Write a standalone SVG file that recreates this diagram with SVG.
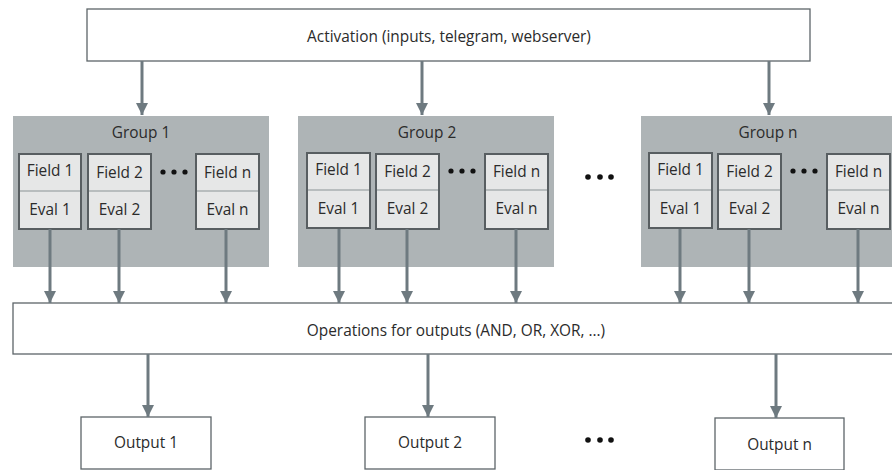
<svg xmlns="http://www.w3.org/2000/svg" width="892" height="470" viewBox="0 0 892 470">
<style>
text{font-family:"Open Sans","Noto Sans","Liberation Sans",sans-serif;font-size:15.4px;fill:#2b2b2b;text-anchor:middle}
.box{fill:#ffffff;stroke:#5d6569;stroke-width:1.3}
.grp{fill:#aeb4b6}
.fld{fill:#e6e7e7;stroke:#585e61;stroke-width:2}
.div{stroke:#a9afb1;stroke-width:1.3}
.con{stroke:#6e7a80;stroke-width:3;fill:none;marker-end:url(#ah)}
.dot{fill:#111}
</style>
<defs>
<marker id="ah" markerUnits="userSpaceOnUse" markerWidth="14" markerHeight="12" refX="12" refY="6" orient="auto" viewBox="0 0 12 12">
<path d="M0,0 L12,6 L0,12 Z" fill="#6e7a80"/>
</marker>
</defs>

<g id="activation">
<rect class="box" x="87" y="9" width="723" height="52"/>
<text x="449" y="42">Activation (inputs, telegram, webserver)</text>
</g>

<g id="group1">
<rect class="grp" x="13" y="116" width="256" height="151"/>
<text x="141" y="138">Group 1</text>
<g id="g1f1"><rect class="fld" x="19" y="154" width="62" height="75"/><line class="div" x1="20" y1="191" x2="80" y2="191"/><text x="50" y="176">Field 1</text><text x="50" y="215">Eval 1</text></g>
<g id="g1f2"><rect class="fld" x="88" y="154" width="63" height="75"/><line class="div" x1="89" y1="191" x2="150" y2="191"/><text x="119.5" y="178">Field 2</text><text x="119.5" y="215">Eval 2</text></g>
<g id="g1fn"><rect class="fld" x="196" y="154" width="63" height="75"/><line class="div" x1="197" y1="191" x2="258" y2="191"/><text x="227.5" y="178">Field n</text><text x="227.5" y="215">Eval n</text></g>
<circle class="dot" cx="163" cy="172" r="2.6"/><circle class="dot" cx="174" cy="172" r="2.6"/><circle class="dot" cx="185" cy="172" r="2.6"/>
</g>

<g id="group2">
<rect class="grp" x="298" y="116" width="256" height="151"/>
<text x="427" y="138">Group 2</text>
<g id="g2f1"><rect class="fld" x="307" y="153" width="63" height="75"/><line class="div" x1="308" y1="190" x2="369" y2="190"/><text x="338.5" y="175">Field 1</text><text x="338.5" y="214">Eval 1</text></g>
<g id="g2f2"><rect class="fld" x="376" y="154" width="63" height="75"/><line class="div" x1="377" y1="190" x2="438" y2="190"/><text x="407.5" y="177">Field 2</text><text x="407.5" y="214">Eval 2</text></g>
<g id="g2fn"><rect class="fld" x="485" y="154" width="63" height="75"/><line class="div" x1="486" y1="190" x2="547" y2="190"/><text x="516.5" y="177">Field n</text><text x="516.5" y="214">Eval n</text></g>
<circle class="dot" cx="451" cy="171" r="2.6"/><circle class="dot" cx="462" cy="171" r="2.6"/><circle class="dot" cx="473" cy="171" r="2.6"/>
</g>

<g id="dots-groups">
<circle class="dot" cx="588" cy="177" r="2.8"/><circle class="dot" cx="600" cy="177" r="2.8"/><circle class="dot" cx="611" cy="177" r="2.8"/>
</g>

<g id="groupn">
<rect class="grp" x="641" y="116" width="256" height="151"/>
<text x="768" y="138">Group n</text>
<g id="gnf1"><rect class="fld" x="649" y="153" width="63" height="75"/><line class="div" x1="650" y1="190" x2="711" y2="190"/><text x="680.5" y="175">Field 1</text><text x="680.5" y="214">Eval 1</text></g>
<g id="gnf2"><rect class="fld" x="718" y="154" width="63" height="75"/><line class="div" x1="719" y1="190" x2="780" y2="190"/><text x="749.5" y="177">Field 2</text><text x="749.5" y="214">Eval 2</text></g>
<g id="gnfn"><rect class="fld" x="827" y="154" width="63" height="75"/><line class="div" x1="828" y1="190" x2="889" y2="190"/><text x="858.5" y="177">Field n</text><text x="858.5" y="214">Eval n</text></g>
<circle class="dot" cx="793" cy="171" r="2.6"/><circle class="dot" cx="804" cy="171" r="2.6"/><circle class="dot" cx="815" cy="171" r="2.6"/>
</g>

<g id="operations">
<rect class="box" x="13" y="303" width="886" height="51"/>
<text x="456" y="336">Operations for outputs (AND, OR, XOR, ...)</text>
</g>

<g id="output1">
<rect class="box" x="81" y="417" width="130" height="52"/>
<text x="146" y="448">Output 1</text>
</g>
<g id="output2">
<rect class="box" x="365" y="417" width="130" height="52"/>
<text x="430" y="448">Output 2</text>
</g>
<g id="dots-outputs">
<circle class="dot" cx="588" cy="440" r="2.8"/><circle class="dot" cx="600" cy="440" r="2.8"/><circle class="dot" cx="611" cy="440" r="2.8"/>
</g>
<g id="outputn">
<rect class="box" x="715" y="418" width="129" height="52"/>
<text x="779.5" y="450">Output n</text>
</g>

<g id="connectors">
<line class="con" x1="142" y1="61" x2="142" y2="115"/>
<line class="con" x1="422" y1="61" x2="422" y2="115"/>
<line class="con" x1="769" y1="61" x2="769" y2="115"/>
<line class="con" x1="50" y1="229" x2="50" y2="303"/>
<line class="con" x1="119" y1="229" x2="119" y2="303"/>
<line class="con" x1="226" y1="229" x2="226" y2="303"/>
<line class="con" x1="339" y1="229" x2="339" y2="303"/>
<line class="con" x1="407" y1="229" x2="407" y2="303"/>
<line class="con" x1="516" y1="229" x2="516" y2="303"/>
<line class="con" x1="680" y1="229" x2="680" y2="303"/>
<line class="con" x1="749" y1="229" x2="749" y2="303"/>
<line class="con" x1="858" y1="229" x2="858" y2="303"/>
<line class="con" x1="148" y1="354" x2="148" y2="417"/>
<line class="con" x1="428" y1="354" x2="428" y2="417"/>
<line class="con" x1="776" y1="354" x2="776" y2="418"/>
</g>
</svg>
